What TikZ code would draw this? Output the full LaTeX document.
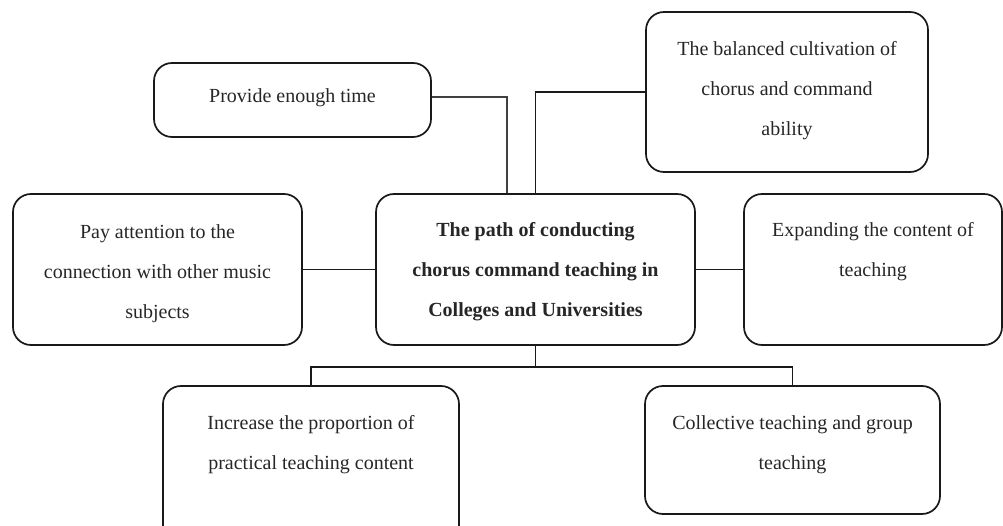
\documentclass[tikz,border=0pt]{standalone}
\usepackage{fontspec}
\setmainfont{Liberation Serif}
\begin{document}
\begin{tikzpicture}[x=1pt,y=-1pt,
  box/.style={draw=black!90, line width=1.7pt, rounded corners=18pt, inner sep=0pt, rectangle},
  txt/.style={align=center, inner sep=0pt, text=black!85, font=\fontsize{20}{40}\selectfont},
  link/.style={draw=black!90, line width=1.5pt}]
\clip (0,0) rectangle (1003,526);
\useasboundingbox (0,0) rectangle (1003,526);
% boxes
\node[box, minimum width=277pt, minimum height=74pt]  (prov) at (292.5,100) {};
\node[box, minimum width=282pt, minimum height=160pt] (bal)  at (787,92) {};
\node[box, minimum width=289pt, minimum height=151pt] (pay)  at (157.5,269.5) {};
\node[box, minimum width=319pt, minimum height=151pt] (cen)  at (535.5,269.5) {};
\node[box, minimum width=258pt, minimum height=151pt] (exp)  at (873,269.5) {};
\node[box, minimum width=296pt, minimum height=159pt] (inc)  at (311,465.5) {};
\node[box, minimum width=295pt, minimum height=128pt] (col)  at (792.5,450) {};
% texts
\node[txt] (tprov) at (292.5,98) {Provide enough time};
\node[txt] (tbal) at (787,91) {The balanced cultivation of\\chorus and command\\ability};
\node[txt] (tpay) at (157.5,274) {Pay attention to the\\connection with other music\\subjects};
\node[txt, font=\fontsize{20}{40}\selectfont\bfseries] (tcen) at (535.5,272) {The path of conducting\\chorus command teaching in\\Colleges and Universities};
\node[txt] (texp) at (873,252) {Expanding the content of\\teaching};
\node[txt] (tinc) at (311,445) {Increase the proportion of\\practical teaching content};
\node[txt] (tcol) at (792.5,445) {Collective teaching and group\\teaching};
% connectors
\draw[link, line width=1.1pt, draw=black!75] ([yshift=3pt]prov.east) -| ([xshift=-28.5pt]cen.north);
\draw[link] (bal.west) -| (cen.north);
\draw[link] (pay.east) -- (cen.west);
\draw[link] (cen.east) -- (exp.west);
\draw[link] (cen.south) -- ++(0,21) coordinate (j);
\draw[link] (j) -| (inc.north);
\draw[link] (j) -| (col.north);
\end{tikzpicture}
\end{document}
